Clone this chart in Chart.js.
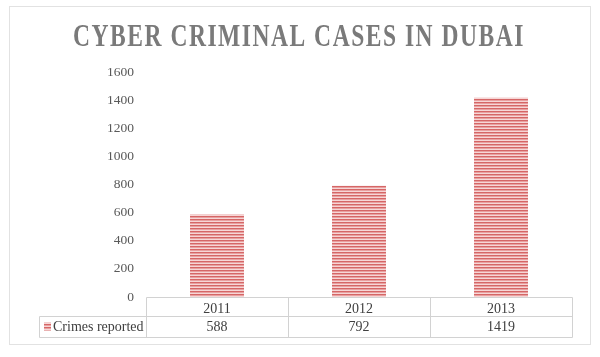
<!DOCTYPE html>
<html>
<head>
<meta charset="utf-8">
<script src="https://cdn.jsdelivr.net/npm/chart.js@4.4.0/dist/chart.umd.min.js"></script>
<style>
html,body{margin:0;padding:0;background:#fff;}
#wrap{width:600px;height:357px;position:relative;}
canvas{display:block;}
</style>
</head>
<body>
<div id="wrap"><canvas id="c" width="600" height="357"></canvas></div>
<script>
// ---- data ----
const chartTitle = 'CYBER CRIMINAL CASES IN DUBAI';
const seriesName = 'Crimes reported';
const years = ['2011', '2012', '2013'];
const crimesReported = [588, 792, 1419];
const yMin = 0;
const yMax = 1600;
const yStep = 200;

const SERIF = "'Liberation Serif', 'DejaVu Serif', serif";

function stripePattern(ctx) {
  const p = document.createElement('canvas');
  p.width = 4; p.height = 3;
  const g = p.getContext('2d');
  g.fillStyle = '#f6d6d6'; g.fillRect(0, 0, 4, 3);
  g.fillStyle = '#d56666'; g.fillRect(0, 0, 4, 1);
  g.fillStyle = '#e8a0a0'; g.fillRect(0, 1, 4, 1);
  return ctx.createPattern(p, 'repeat');
}

const canvas = document.getElementById('c');
const ctx0 = canvas.getContext('2d');
const pattern = stripePattern(ctx0);

const framePlugin = {
  id: 'frame',
  afterInit(chart) {
    const tb = chart.titleBlock;
    if (tb) {
      const orig = tb.draw.bind(tb);
      tb.draw = function () {
        const ctx = chart.ctx;
        const cx = (this.left + this.right) / 2;
        const target = chart.width / 2 - 1;
        ctx.save();
        ctx.translate(target, 0);
        ctx.scale(0.79, 1);
        ctx.translate(-cx, 0);
        try { ctx.letterSpacing = '2px'; } catch (e) {}
        orig();
        ctx.restore();
      };
    }
  },
  beforeDraw(chart) {
    const ctx = chart.ctx;
    ctx.save();
    ctx.fillStyle = '#ffffff';
    ctx.fillRect(0, 0, chart.width, chart.height);
    ctx.strokeStyle = '#e2e2e2';
    ctx.lineWidth = 1;
    ctx.strokeRect(9.5, 6.5, 581, 338);
    ctx.restore();
  },
  afterDraw(chart) {
    const ctx = chart.ctx;
    const ca = chart.chartArea;
    const xs = chart.scales.x;
    const n = years.length;
    const top = Math.round(ca.bottom) + 0.5;
    const mid = top + 19;
    const bot = top + 40;
    const legLeft = 39.5;
    const left = Math.round(ca.left) + 0.5;
    const right = Math.round(ca.right) + 0.5;
    const catW = (ca.right - ca.left) / n;

    ctx.save();
    ctx.strokeStyle = '#d2d2d2';
    ctx.lineWidth = 1;
    ctx.beginPath();
    ctx.moveTo(left, top); ctx.lineTo(right, top);
    ctx.moveTo(legLeft, mid); ctx.lineTo(right, mid);
    ctx.moveTo(legLeft, bot); ctx.lineTo(right, bot);
    ctx.moveTo(legLeft, mid); ctx.lineTo(legLeft, bot);
    for (let i = 0; i <= n; i++) {
      const x = Math.round(ca.left + i * catW) + 0.5;
      ctx.moveTo(x, top); ctx.lineTo(x, bot);
    }
    ctx.stroke();

    // legend swatch + series name
    ctx.fillStyle = pattern;
    ctx.fillRect(44, mid + 6, 7, 8);
    ctx.fillStyle = '#404040';
    ctx.font = "14px " + SERIF;
    ctx.textBaseline = 'middle';
    ctx.textAlign = 'left';
    ctx.fillText(seriesName, 53, (mid + bot) / 2 + 0.5);

    // values row
    ctx.fillStyle = '#404040';
    ctx.font = "14px " + SERIF;
    ctx.textAlign = 'center';
    crimesReported.forEach((v, i) => {
      ctx.fillText(String(v), xs.getPixelForValue(i), (mid + bot) / 2 + 0.5);
    });
    ctx.restore();
  }
};

new Chart(canvas, {
  type: 'bar',
  data: {
    labels: years,
    datasets: [{
      label: seriesName,
      data: crimesReported,
      backgroundColor: pattern,
      borderWidth: 0,
      barPercentage: 0.38,
      categoryPercentage: 1.0
    }]
  },
  options: {
    responsive: false,
    animation: false,
    devicePixelRatio: 1,
    layout: { padding: { left: 0, right: 28, top: 0, bottom: 0 } },
    plugins: {
      legend: { display: false },
      tooltip: { enabled: false },
      title: {
        display: true,
        text: chartTitle,
        color: '#7a7a7a',
        font: { family: SERIF, size: 31, weight: 'bold' },
        padding: { top: 19, bottom: 16 }
      }
    },
    scales: {
      x: {
        grid: { display: false, drawTicks: false },
        border: { display: false },
        ticks: { color: '#404040', font: { family: SERIF, size: 14 }, padding: 4 },
        afterFit(scale) { scale.height = 60; }
      },
      y: {
        min: yMin,
        max: yMax,
        grid: { display: false, drawTicks: false },
        border: { display: false },
        ticks: {
          stepSize: yStep,
          color: '#595959',
          font: { family: SERIF, size: 13.5 },
          padding: 12,
          callback: (v) => String(v)
        },
        afterFit(scale) { scale.width = 146; }
      }
    }
  },
  plugins: [framePlugin]
});
</script>
</body>
</html>
